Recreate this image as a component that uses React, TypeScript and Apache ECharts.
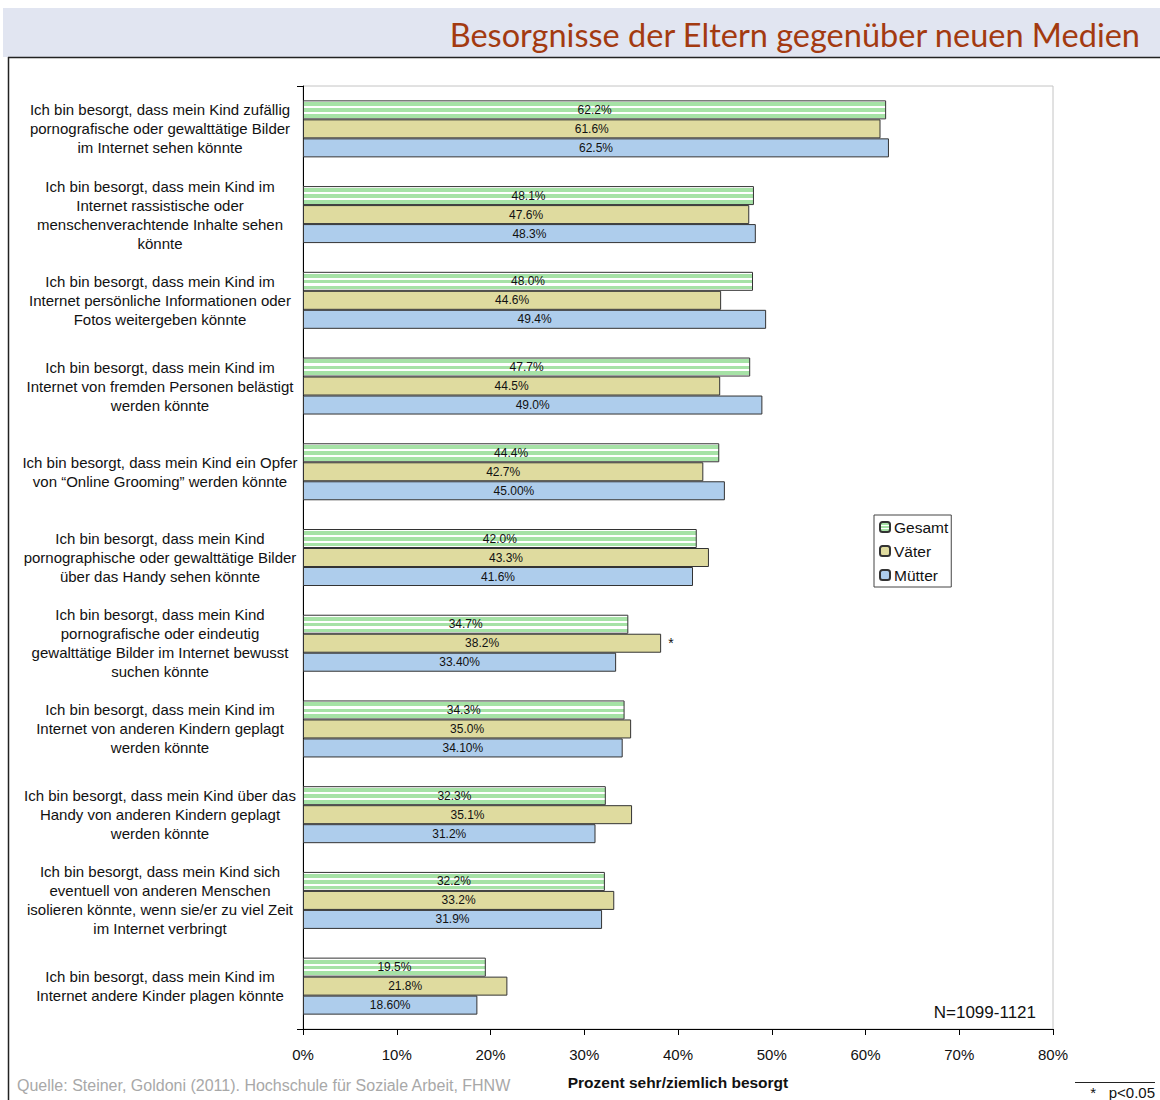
import React, { useEffect, useRef } from "react";
import * as echarts from "echarts";

const categories = [
  "Ich bin besorgt, dass mein Kind zufällig\npornografische oder gewalttätige Bilder\nim Internet sehen könnte",
  "Ich bin besorgt, dass mein Kind im\nInternet rassistische oder\nmenschenverachtende Inhalte sehen\nkönnte",
  "Ich bin besorgt, dass mein Kind im\nInternet persönliche Informationen oder\nFotos weitergeben könnte",
  "Ich bin besorgt, dass mein Kind im\nInternet von fremden Personen belästigt\nwerden könnte",
  "Ich bin besorgt, dass mein Kind ein Opfer\nvon “Online Grooming” werden könnte",
  "Ich bin besorgt, dass mein Kind\npornographische oder gewalttätige Bilder\nüber das Handy sehen könnte",
  "Ich bin besorgt, dass mein Kind\npornografische oder eindeutig\ngewalttätige Bilder im Internet bewusst\nsuchen könnte",
  "Ich bin besorgt, dass mein Kind im\nInternet von anderen Kindern geplagt\nwerden könnte",
  "Ich bin besorgt, dass mein Kind über das\nHandy von anderen Kindern geplagt\nwerden könnte",
  "Ich bin besorgt, dass mein Kind sich\neventuell von anderen Menschen\nisolieren könnte, wenn sie/er zu viel Zeit\nim Internet verbringt",
  "Ich bin besorgt, dass mein Kind im\nInternet andere Kinder plagen könnte",
];

const gesamt = [62.2, 48.1, 48.0, 47.7, 44.4, 42.0, 34.7, 34.3, 32.3, 32.2, 19.5];
const vaeter = [61.6, 47.6, 44.6, 44.5, 42.7, 43.3, 38.2, 35.0, 35.1, 33.2, 21.8];
const muetter = [62.5, 48.3, 49.4, 49.0, 45.0, 41.6, 33.4, 34.1, 31.2, 31.9, 18.6];
const muetterDecimals = [1, 1, 1, 1, 2, 1, 2, 2, 1, 1, 2];
const significantIndex = 6; // Väter bar marked with *

const xTicks = [0, 10, 20, 30, 40, 50, 60, 70, 80];

const FONT = "'Liberation Sans', Arial, sans-serif";

export default function App() {
  const ref = useRef<HTMLDivElement>(null);

  useEffect(() => {
    document.body.style.margin = "0";
    const chart = echarts.init(ref.current!, null, { renderer: "svg" });

    const g = "#a6e2a6";
    const w = "#ffffff";
    const stripe = new echarts.graphic.LinearGradient(0, 0, 0, 1, [
      { offset: 0, color: w },
      { offset: 0.08, color: w },
      { offset: 0.08, color: g },
      { offset: 0.3, color: g },
      { offset: 0.3, color: w },
      { offset: 0.42, color: w },
      { offset: 0.42, color: g },
      { offset: 0.62, color: g },
      { offset: 0.62, color: w },
      { offset: 0.74, color: w },
      { offset: 0.74, color: g },
      { offset: 0.94, color: g },
      { offset: 0.94, color: w },
      { offset: 1, color: w },
    ]);

    const labelBase = {
      show: true,
      position: "inside",
      fontSize: 12,
      fontFamily: FONT,
      color: "#111",
    };

    chart.setOption({
      animation: false,
      backgroundColor: "#ffffff",
      textStyle: { fontFamily: FONT },
      grid: { left: 303, right: 107, top: 86, bottom: 71, show: true, borderColor: "#c4c4c4", borderWidth: 1 },
      legend: {
        orient: "vertical",
        left: 874,
        top: 515,
        itemWidth: 10,
        itemHeight: 10,
        itemGap: 8,
        padding: [4, 3, 4, 5],
        backgroundColor: "#fff",
        borderColor: "#444",
        borderWidth: 1,
        textStyle: { fontSize: 15.5, fontFamily: FONT, color: "#111", padding: [0, 0, 0, -1] },
        data: ["Gesamt", "Väter", "Mütter"],
      },
      xAxis: {
        type: "value",
        min: 0,
        max: 80,
        interval: 10,
        axisLine: { show: true, lineStyle: { color: "#000", width: 1 } },
        axisTick: { show: true, length: 6, lineStyle: { color: "#000" } },
        splitLine: { show: false },
        axisLabel: {
          fontSize: 15,
          fontFamily: FONT,
          color: "#111",
          margin: 18,
          formatter: (v: number) => (xTicks.includes(v) ? v + "%" : ""),
        },
        name: "Prozent sehr/ziemlich besorgt",
        nameLocation: "middle",
        nameGap: 45,
        nameTextStyle: { fontSize: 15.5, fontWeight: "bold", fontFamily: FONT, color: "#111" },
      },
      yAxis: {
        type: "category",
        inverse: true,
        data: categories,
        axisLine: { show: true, lineStyle: { color: "#000", width: 1 } },
        axisTick: { show: false },
        axisLabel: {
          align: "center",
          margin: 143,
          fontSize: 15,
          lineHeight: 19,
          fontFamily: FONT,
          color: "#111",
        },
      },
      series: [
        {
          name: "Gesamt",
          type: "bar",
          data: gesamt,
          barWidth: 19,
          barGap: "0%",
          itemStyle: { color: stripe, borderColor: "#333", borderWidth: 1 },
          label: { ...labelBase, formatter: (p: any) => p.value.toFixed(1) + "%" },
        },
        {
          name: "Väter",
          type: "bar",
          data: vaeter,
          barWidth: 19,
          barGap: "0%",
          itemStyle: { color: "#dfdb9f", borderColor: "#333", borderWidth: 1 },
          label: { ...labelBase, formatter: (p: any) => p.value.toFixed(1) + "%" },
          markPoint: {
            symbol: "circle",
            symbolSize: 0,
            data: [
              {
                coord: [vaeter[significantIndex], categories[significantIndex]],
                label: {
                  show: true,
                  position: "right",
                  distance: 7,
                  formatter: "*",
                  fontSize: 14,
                  fontFamily: FONT,
                  color: "#111",
                },
              },
            ],
          },
        },
        {
          name: "Mütter",
          type: "bar",
          data: muetter,
          barWidth: 19,
          barGap: "0%",
          itemStyle: { color: "#aecdec", borderColor: "#333", borderWidth: 1 },
          label: {
            ...labelBase,
            formatter: (p: any) => p.value.toFixed(muetterDecimals[p.dataIndex]) + "%",
          },
        },
      ],
      graphic: [
        { type: "rect", shape: { x: 3, y: 8, width: 1157, height: 49 }, style: { fill: "#e1e5f1" }, silent: true },
        {
          type: "text",
          x: 1140,
          y: 34,
          style: {
            text: "Besorgnisse der Eltern gegenüber neuen Medien",
            fill: "#a33a10",
            fontSize: 32.5,
            fontFamily: "Lato, 'Open Sans', sans-serif",
            textAlign: "right",
            textVerticalAlign: "middle",
          },
        },
        { type: "line", shape: { x1: 8, y1: 57.5, x2: 1160, y2: 57.5 }, style: { stroke: "#222", lineWidth: 1.5 } },
        { type: "line", shape: { x1: 8.5, y1: 57, x2: 8.5, y2: 1100 }, style: { stroke: "#222", lineWidth: 1.5 } },
        { type: "line", shape: { x1: 297, y1: 86.5, x2: 303, y2: 86.5 }, style: { stroke: "#000", lineWidth: 1 } },
        { type: "line", shape: { x1: 297, y1: 1029.5, x2: 303, y2: 1029.5 }, style: { stroke: "#000", lineWidth: 1 } },
        {
          type: "text",
          x: 1036,
          y: 1012,
          style: { text: "N=1099-1121", fill: "#111", fontSize: 17, fontFamily: FONT, textAlign: "right", textVerticalAlign: "middle" },
        },
        {
          type: "text",
          x: 17,
          y: 1085,
          style: {
            text: "Quelle: Steiner, Goldoni (2011). Hochschule für Soziale Arbeit, FHNW",
            fill: "#a8a8a8",
            fontSize: 16,
            fontFamily: FONT,
            textVerticalAlign: "middle",
          },
        },
        { type: "line", shape: { x1: 1075, y1: 1082.5, x2: 1155, y2: 1082.5 }, style: { stroke: "#222", lineWidth: 1 } },
        {
          type: "text",
          x: 1155,
          y: 1092,
          style: { text: "*   p<0.05", fill: "#111", fontSize: 15, fontFamily: FONT, textAlign: "right", textVerticalAlign: "middle" },
        },
      ],
    });

    return () => chart.dispose();
  }, []);

  return <div ref={ref} style={{ width: 1160, height: 1100 }} />;
}
